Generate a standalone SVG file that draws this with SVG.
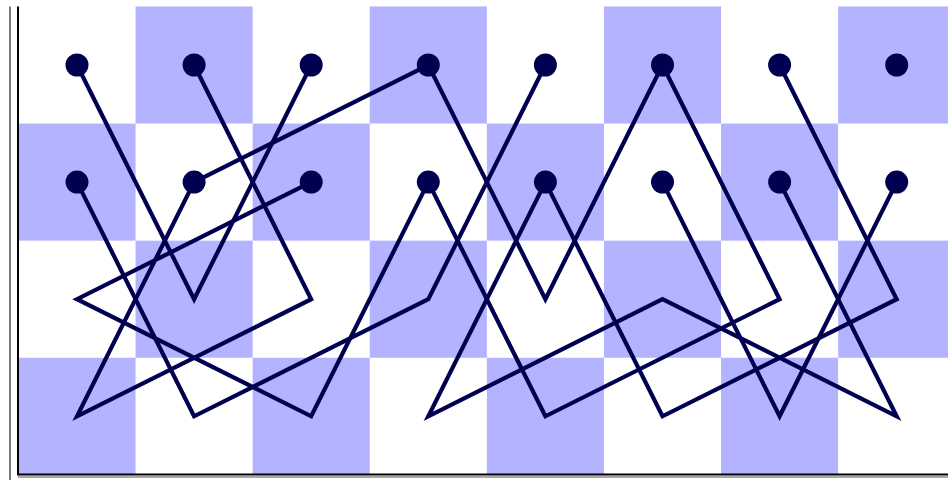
<svg xmlns="http://www.w3.org/2000/svg" width="948" height="480" viewBox="0 0 948 480">
<style>
.sq{fill:#b3b3ff;stroke:none}
.path{fill:none;stroke:#000050;stroke-width:4.2;stroke-linejoin:miter;stroke-miterlimit:10}
.dot{fill:#000050;stroke:none}
</style>
<rect x="0" y="0" width="948" height="480" fill="#ffffff"/>
<g id="board">
<rect class="sq" x="135.55" y="6.45" width="117.1" height="117.1"/>
<rect class="sq" x="369.75" y="6.45" width="117.1" height="117.1"/>
<rect class="sq" x="603.95" y="6.45" width="117.1" height="117.1"/>
<rect class="sq" x="838.15" y="6.45" width="117.1" height="117.1"/>
<rect class="sq" x="18.45" y="123.55" width="117.1" height="117.1"/>
<rect class="sq" x="252.65" y="123.55" width="117.1" height="117.1"/>
<rect class="sq" x="486.85" y="123.55" width="117.1" height="117.1"/>
<rect class="sq" x="721.05" y="123.55" width="117.1" height="117.1"/>
<rect class="sq" x="135.55" y="240.65" width="117.1" height="117.1"/>
<rect class="sq" x="369.75" y="240.65" width="117.1" height="117.1"/>
<rect class="sq" x="603.95" y="240.65" width="117.1" height="117.1"/>
<rect class="sq" x="838.15" y="240.65" width="117.1" height="117.1"/>
<rect class="sq" x="18.45" y="357.75" width="117.1" height="117.1"/>
<rect class="sq" x="252.65" y="357.75" width="117.1" height="117.1"/>
<rect class="sq" x="486.85" y="357.75" width="117.1" height="117.1"/>
<rect class="sq" x="721.05" y="357.75" width="117.1" height="117.1"/>
</g>
<g id="axes">
<line x1="10" y1="6.45" x2="10" y2="480" stroke="#7a7a7a" stroke-width="2"/>
<path d="M18,6.45 V474.5 H948" fill="none" stroke="#000000" stroke-width="2"/>
<line x1="18" y1="477" x2="948" y2="477" stroke="#8a8a8a" stroke-width="1.5"/>
</g>
<g id="connectors">
<polyline class="path" points="77,65 194.1,299.2 311.2,65"/>
<polyline class="path" points="311.2,182.1 77,299.2 311.2,416.3 428.3,182.1 545.4,416.3 779.6,299.2 662.5,65 545.4,299.2 428.3,65 194.1,182.1 77,416.3 311.2,299.2 194.1,65"/>
<polyline class="path" points="77,182.1 194.1,416.3 428.3,299.2 545.4,65"/>
<polyline class="path" points="779.6,182.1 896.7,416.3 662.5,299.2 428.3,416.3 545.4,182.1 662.5,416.3 896.7,299.2 779.6,65"/>
<polyline class="path" points="662.5,182.1 779.6,416.3 896.7,182.1"/>
</g>
<g id="n00"><circle class="dot" cx="77" cy="65" r="11.5"/></g>
<g id="n10"><circle class="dot" cx="194.1" cy="65" r="11.5"/></g>
<g id="n20"><circle class="dot" cx="311.2" cy="65" r="11.5"/></g>
<g id="n30"><circle class="dot" cx="428.3" cy="65" r="11.5"/></g>
<g id="n40"><circle class="dot" cx="545.4" cy="65" r="11.5"/></g>
<g id="n50"><circle class="dot" cx="662.5" cy="65" r="11.5"/></g>
<g id="n60"><circle class="dot" cx="779.6" cy="65" r="11.5"/></g>
<g id="n70"><circle class="dot" cx="896.7" cy="65" r="11.5"/></g>
<g id="n01"><circle class="dot" cx="77" cy="182.1" r="11.5"/></g>
<g id="n11"><circle class="dot" cx="194.1" cy="182.1" r="11.5"/></g>
<g id="n21"><circle class="dot" cx="311.2" cy="182.1" r="11.5"/></g>
<g id="n31"><circle class="dot" cx="428.3" cy="182.1" r="11.5"/></g>
<g id="n41"><circle class="dot" cx="545.4" cy="182.1" r="11.5"/></g>
<g id="n51"><circle class="dot" cx="662.5" cy="182.1" r="11.5"/></g>
<g id="n61"><circle class="dot" cx="779.6" cy="182.1" r="11.5"/></g>
<g id="n71"><circle class="dot" cx="896.7" cy="182.1" r="11.5"/></g>
</svg>
